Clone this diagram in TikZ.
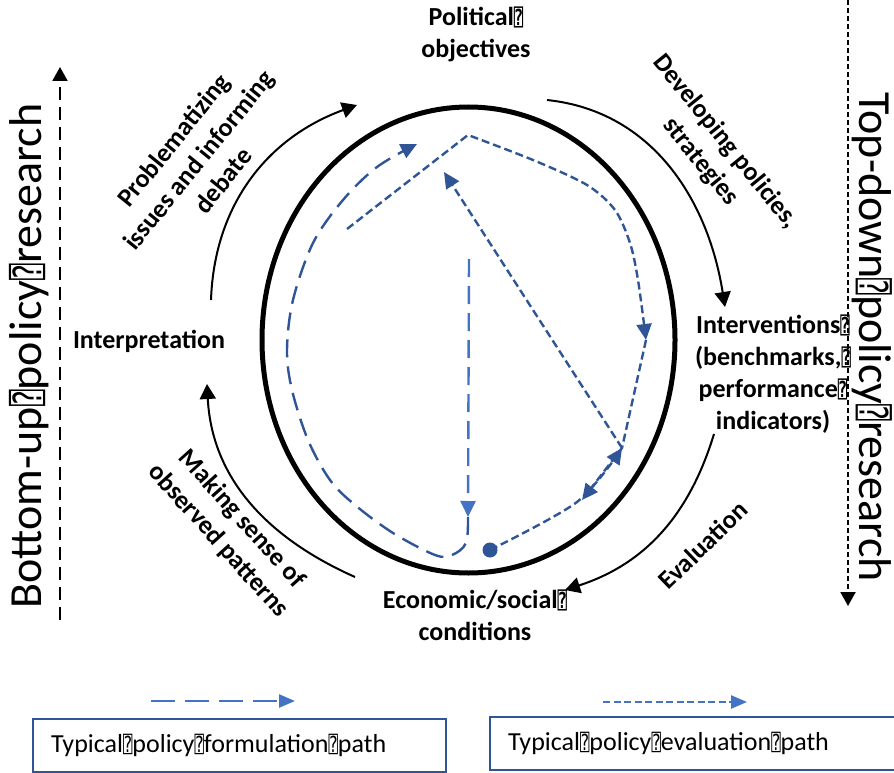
\documentclass[tikz,border=0pt]{standalone}
\usepackage{fontspec}
\usepackage{graphicx}
\setmainfont{Carlito}
\newfontfamily\qfont{DejaVu Sans Mono}
\usetikzlibrary{arrows.meta}
\definecolor{pathblue}{HTML}{2F5597}
\definecolor{keyblue}{HTML}{4472C4}
\newcommand{\qb}{\scalebox{0.6}[0.85]{\qfont ⍰}}
\tikzset{
  stage/.style={font=\bfseries\fontsize{26}{32}\selectfont, align=center, inner sep=0pt},
  sidetext/.style={font=\fontsize{46}{50}\selectfont, inner sep=0pt},
  cycle/.style={-{Triangle[length=15pt,width=16pt]}, line width=2pt},
  ring/.style={line width=5pt},
  formpath/.style={draw=pathblue, line width=2.4pt, dash pattern=on 18pt off 9pt, -{Triangle[length=16pt,width=15pt]}},
  evalpath/.style={draw=pathblue, line width=2.4pt, dash pattern=on 8pt off 4pt, -{Triangle[length=16pt,width=15pt]}},
  sidearrow/.style={line width=2pt, -{Triangle[length=14pt,width=15pt]}},
  legendbox/.style={draw=pathblue, line width=1.8pt, minimum height=53pt, inner xsep=18pt, align=left,
    font=\fontsize{26}{30}\selectfont},
  keyarrow/.style={draw=keyblue, line width=2.4pt, -{Triangle[length=16pt,width=13pt]}}
}
\begin{document}
\begin{tikzpicture}[x=1pt,y=1pt]
  \useasboundingbox (0,0) rectangle (894,-773);

  % cycle ring
  \coordinate (hub) at (468.5,-340);
  \draw[ring] (hub) ellipse [x radius=206.5, y radius=233];

  % stage labels
  \node[stage] (political) at (476,-34.5) {Political\qb\\objectives};
  \node[stage] (interventions) at (773,-374) {Interventions\qb\\(benchmarks,\qb\\performance\qb\\indicators)};
  \node[stage] (economic) at (475,-615) {Economic/social\qb\\conditions};
  \node[stage] (interpretation) at (149,-341) {Interpretation};

  % labels on the outer arcs
  \node[stage, rotate=51] (problem) at (198,-160) {Problematizing\\issues and informing\\debate};
  \node[stage, rotate=-51] (develop) at (713,-152) {Developing policies,\\strategies};
  \node[stage, rotate=-48] (sense) at (230,-530) {Making sense of\\observed patterns};
  \node[stage, rotate=44] (evaluation) at (703,-545) {Evaluation};

  % outer arcs
  \coordinate (tlA) at (211,-300);
  \coordinate (tlB) at (357,-105);
  \coordinate (trA) at (547,-100);
  \coordinate (trB) at (725,-307);
  \coordinate (brA) at (714,-434);
  \coordinate (brB) at (565,-590);
  \coordinate (blA) at (355,-577);
  \coordinate (blB) at (207,-384);
  \draw[cycle] (tlA) to[out=88,in=200] (tlB);
  \draw[cycle] (trA) to[out=-6,in=99] (trB);
  \draw[cycle] (brA) to[out=-107,in=18] (brB);
  \draw[cycle] (blA) to[out=156,in=-87] (blB);

  % side axes
  \coordinate (leftA) at (60,-620);
  \coordinate (leftB) at (60,-67);
  \coordinate (rightA) at (848,0);
  \coordinate (rightB) at (848,-606);
  \draw[sidearrow, dash pattern=on 13pt off 7pt] (leftA) -- (leftB);
  \draw[sidearrow, dash pattern=on 5pt off 3pt] (rightA) -- (rightB);
  \node[sidetext, rotate=90] (bottomup) at (29,-356) {Bottom-up\qb policy\qb research};
  \node[sidetext, rotate=-90] (topdown) at (872,-337) {Top-down\qb policy\qb research};

  % formulation path
  \coordinate (fstart) at (469,-259);
  \coordinate (fturn) at (468,-517);
  \coordinate (fend) at (417,-144);
  \draw[formpath, draw=keyblue] (fstart) -- (fturn);
  \draw[formpath] plot[smooth, tension=0.55] coordinates {(fturn) (466,-543) (452,-555) (435,-555) (393,-533) (355,-505) (330,-480) (308,-440) (292,-390) (287,-350) (293,-300) (313,-243) (343,-200) (377,-167) (fend)};

  % evaluation path
  \node[circle, fill=pathblue, inner sep=0pt, minimum size=15pt] (dot) at (490,-550) {};
  \coordinate (ebend) at (622,-448);
  \coordinate (elow) at (582,-500);
  \coordinate (eright) at (646,-340);
  \coordinate (etop) at (444,-172);
  \coordinate (epeak) at (468,-135);
  \coordinate (estart) at (347,-229);
  \draw[evalpath] plot[smooth, tension=0.5] coordinates {(dot) (577,-502) (ebend)};
  \draw[evalpath] (eright) -- (ebend) -- (elow);
  \draw[evalpath] (ebend) -- (etop);
  \draw[evalpath] (estart) -- plot[smooth, tension=0.5] coordinates {(epeak) (533,-160) (587,-185) (615,-210) (630,-243) (638,-280) (eright)};

  % legend
  \node[legendbox, text width=377pt] (formbox) at (239.5,-745.5) {Typical\qb policy\qb formulation\qb path};
  \node[legendbox, text width=377pt] (evalbox) at (696.5,-743.5) {Typical\qb policy\qb evaluation\qb path};
  \coordinate (fkeyA) at (151,-701);
  \coordinate (fkeyB) at (295,-701);
  \coordinate (ekeyA) at (603,-702);
  \coordinate (ekeyB) at (747,-702);
  \draw[keyarrow, dash pattern=on 24pt off 10pt] (fkeyA) -- (fkeyB);
  \draw[keyarrow, dash pattern=on 7pt off 3.5pt] (ekeyA) -- (ekeyB);
\end{tikzpicture}
\end{document}
